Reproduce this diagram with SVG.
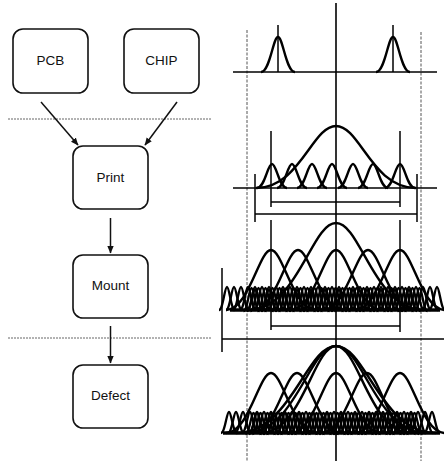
<svg xmlns="http://www.w3.org/2000/svg" xmlns:xlink="http://www.w3.org/1999/xlink" width="444" height="461" viewBox="0 0 444 461">
<style>
.box{fill:#fff;stroke:#111;stroke-width:1.6}
.lbl{font-family:"Liberation Sans",Arial,sans-serif;font-size:13.5px;fill:#111;text-anchor:middle}
.sep{stroke:#666;stroke-width:1;stroke-dasharray:2 1;fill:none}
.arr{stroke:#111;stroke-width:1.5;fill:none;marker-end:url(#ah)}
.dot{stroke:#555;stroke-width:1;stroke-dasharray:3 1.5;fill:none}
.ln{stroke:#000;stroke-width:1.5;fill:none}
.cv{stroke:#000;stroke-width:2.4;fill:none;stroke-linejoin:round}
.sm{stroke:#000;stroke-width:2.3;fill:none;stroke-linejoin:round}
</style>
<defs>
<marker id="ah" markerWidth="8" markerHeight="8" refX="7" refY="4" orient="auto" markerUnits="userSpaceOnUse">
<path d="M0,0.8 L7.5,4 L0,7.2 Z" fill="#111"/>
</marker>
<path id="p" d="M-15,0 C-7,0 -4.5,-24 0,-24 C4.5,-24 7,0 15,0"/>
<path id="s" d="M-8,0 C-4,0 -2.4,-23 0,-23 C2.4,-23 4,0 8,0"/>
<path id="t" d="M-8,0 C-4,0 -2.4,-21 0,-21 C2.4,-21 4,0 8,0"/>
<path id="m" d="M-45,0 C-22,0 -12,-60 0,-60 C12,-60 22,0 45,0"/>
</defs>

<g id="separators">
<line class="sep" x1="8" y1="119" x2="212" y2="119"/>
<line class="sep" x1="8" y1="338" x2="212" y2="338"/>
</g>

<g id="connectors">
<line class="arr" x1="41" y1="102" x2="78" y2="145"/>
<line class="arr" x1="177" y1="102" x2="145" y2="145"/>
<line class="arr" x1="110.5" y1="218" x2="110.5" y2="253"/>
<line class="arr" x1="110.5" y1="326" x2="110.5" y2="363"/>
</g>

<g id="pcb"><rect class="box" x="13" y="29" width="75" height="64" rx="10"/><text class="lbl" x="50.5" y="65">PCB</text></g>
<g id="chip"><rect class="box" x="124" y="29" width="75" height="64" rx="10"/><text class="lbl" x="161.5" y="65">CHIP</text></g>
<g id="print"><rect class="box" x="73" y="146" width="75" height="63" rx="10"/><text class="lbl" x="110.5" y="181.5">Print</text></g>
<g id="mount"><rect class="box" x="73" y="255" width="75" height="63" rx="10"/><text class="lbl" x="110.5" y="290">Mount</text></g>
<g id="defect"><rect class="box" x="73" y="365" width="75" height="63" rx="10"/><text class="lbl" x="110.5" y="399.5">Defect</text></g>

<g id="chart">
<line class="dot" x1="247" y1="30" x2="247" y2="461"/>
<line class="dot" x1="421" y1="32" x2="421" y2="461"/>
<line x1="336" y1="3" x2="336" y2="461" stroke="#000" stroke-width="1.6"/>

<!-- panel 1 -->
<line class="ln" x1="233" y1="72" x2="437" y2="72"/>
<line class="ln" x1="278" y1="25" x2="278" y2="72"/>
<line class="ln" x1="393" y1="25" x2="393" y2="72"/>
<path class="cv" d="M261,72 C270,72 273,37 278,37 C283,37 286,72 295,72"/>
<path class="cv" d="M376,72 C385,72 388,37 393,37 C398,37 401,72 410,72"/>

<!-- panel 2 -->
<line class="ln" x1="233" y1="188" x2="437" y2="188"/>
<line class="ln" x1="271" y1="131" x2="271" y2="207"/>
<line class="ln" x1="400" y1="131" x2="400" y2="207"/>
<line class="ln" x1="271" y1="202" x2="400" y2="202"/>
<line class="ln" x1="255" y1="214" x2="417" y2="214"/>
<line class="ln" x1="255" y1="174" x2="255" y2="222"/>
<line class="ln" x1="417" y1="174" x2="417" y2="222"/>
<path class="cv" d="M256,188 C300,188 312,126 336,126 C360,126 372,188 416,188"/>
<g class="cv">
<use xlink:href="#p" x="272" y="188"/>
<use xlink:href="#p" x="292" y="188"/>
<use xlink:href="#p" x="312" y="188"/>
<use xlink:href="#p" x="332" y="188"/>
<use xlink:href="#p" x="353" y="188"/>
<use xlink:href="#p" x="373" y="188"/>
<use xlink:href="#p" x="400" y="188"/>
</g>

<!-- panel 3 -->
<line class="ln" x1="271" y1="220" x2="271" y2="330"/>
<line class="ln" x1="400" y1="220" x2="400" y2="332"/>
<line class="ln" x1="271" y1="326" x2="400" y2="326"/>
<line class="ln" x1="222" y1="268" x2="222" y2="352"/>
<line class="ln" x1="222" y1="339" x2="444" y2="339"/>
<path class="cv" d="M248,310 C298,310 311,223 336,223 C361,223 374,310 424,310"/>
<g class="cv">
<use xlink:href="#m" x="271" y="310"/>
<use xlink:href="#m" x="298" y="310"/>
<use xlink:href="#m" x="336" y="310"/>
<use xlink:href="#m" x="368" y="310"/>
<use xlink:href="#m" x="400" y="310"/>
</g>
<g class="sm">
<use xlink:href="#s" x="227" y="310"/><use xlink:href="#s" x="234" y="310"/><use xlink:href="#s" x="241" y="310"/><use xlink:href="#s" x="248" y="310"/>
<use xlink:href="#s" x="255" y="310"/><use xlink:href="#s" x="262" y="310"/><use xlink:href="#s" x="269" y="310"/><use xlink:href="#s" x="276" y="310"/>
<use xlink:href="#s" x="283" y="310"/><use xlink:href="#s" x="290" y="310"/><use xlink:href="#s" x="297" y="310"/><use xlink:href="#s" x="304" y="310"/>
<use xlink:href="#s" x="311" y="310"/><use xlink:href="#s" x="318" y="310"/><use xlink:href="#s" x="325" y="310"/><use xlink:href="#s" x="332" y="310"/>
<use xlink:href="#s" x="339" y="310"/><use xlink:href="#s" x="346" y="310"/><use xlink:href="#s" x="353" y="310"/><use xlink:href="#s" x="360" y="310"/>
<use xlink:href="#s" x="367" y="310"/><use xlink:href="#s" x="374" y="310"/><use xlink:href="#s" x="381" y="310"/><use xlink:href="#s" x="388" y="310"/>
<use xlink:href="#s" x="395" y="310"/><use xlink:href="#s" x="402" y="310"/><use xlink:href="#s" x="409" y="310"/><use xlink:href="#s" x="416" y="310"/>
<use xlink:href="#s" x="423" y="310"/><use xlink:href="#s" x="430" y="310"/><use xlink:href="#s" x="437" y="310"/>
<use xlink:href="#s" x="251.5" y="311"/><use xlink:href="#s" x="258.5" y="311"/><use xlink:href="#s" x="265.5" y="311"/><use xlink:href="#s" x="272.5" y="311"/>
<use xlink:href="#s" x="279.5" y="311"/><use xlink:href="#s" x="286.5" y="311"/><use xlink:href="#s" x="293.5" y="311"/><use xlink:href="#s" x="300.5" y="311"/>
<use xlink:href="#s" x="307.5" y="311"/><use xlink:href="#s" x="314.5" y="311"/><use xlink:href="#s" x="321.5" y="311"/><use xlink:href="#s" x="328.5" y="311"/>
<use xlink:href="#s" x="335.5" y="311"/><use xlink:href="#s" x="342.5" y="311"/><use xlink:href="#s" x="349.5" y="311"/><use xlink:href="#s" x="356.5" y="311"/>
<use xlink:href="#s" x="363.5" y="311"/><use xlink:href="#s" x="370.5" y="311"/><use xlink:href="#s" x="377.5" y="311"/><use xlink:href="#s" x="384.5" y="311"/>
<use xlink:href="#s" x="391.5" y="311"/><use xlink:href="#s" x="398.5" y="311"/><use xlink:href="#s" x="405.5" y="311"/><use xlink:href="#s" x="412.5" y="311"/>
<use xlink:href="#s" x="419.5" y="311"/>
<use xlink:href="#t" x="255" y="311"/><use xlink:href="#t" x="269" y="311"/><use xlink:href="#t" x="283" y="311"/><use xlink:href="#t" x="297" y="311"/>
<use xlink:href="#t" x="311" y="311"/><use xlink:href="#t" x="325" y="311"/><use xlink:href="#t" x="339" y="311"/><use xlink:href="#t" x="353" y="311"/>
<use xlink:href="#t" x="367" y="311"/><use xlink:href="#t" x="381" y="311"/><use xlink:href="#t" x="395" y="311"/><use xlink:href="#t" x="409" y="311"/>
</g>
<line x1="230" y1="310" x2="440" y2="310" stroke="#000" stroke-width="3.5"/>

<!-- panel 4 -->
<path class="cv" d="M261,433 C302,433 313.5,346 336,346 C358.5,346 370,433 411,433"/>
<path class="cv" d="M246,433 C295.5,433 309,346 336,346 C363,346 376.5,433 426,433"/>
<path class="cv" d="M236,433 C291,433 306,346 336,346 C366,346 381,433 436,433"/>
<g class="cv">
<use xlink:href="#m" x="271" y="433"/>
<use xlink:href="#m" x="297" y="433"/>
<use xlink:href="#m" x="336" y="433"/>
<use xlink:href="#m" x="367" y="433"/>
<use xlink:href="#m" x="400" y="433"/>
</g>
<g class="sm">
<use xlink:href="#t" x="229" y="433"/><use xlink:href="#t" x="236" y="433"/><use xlink:href="#t" x="243" y="433"/><use xlink:href="#t" x="250" y="433"/>
<use xlink:href="#t" x="257" y="433"/><use xlink:href="#t" x="264" y="433"/><use xlink:href="#t" x="271" y="433"/><use xlink:href="#t" x="278" y="433"/>
<use xlink:href="#t" x="285" y="433"/><use xlink:href="#t" x="292" y="433"/><use xlink:href="#t" x="299" y="433"/><use xlink:href="#t" x="306" y="433"/>
<use xlink:href="#t" x="313" y="433"/><use xlink:href="#t" x="320" y="433"/><use xlink:href="#t" x="327" y="433"/><use xlink:href="#t" x="334" y="433"/>
<use xlink:href="#t" x="341" y="433"/><use xlink:href="#t" x="348" y="433"/><use xlink:href="#t" x="355" y="433"/><use xlink:href="#t" x="362" y="433"/>
<use xlink:href="#t" x="369" y="433"/><use xlink:href="#t" x="376" y="433"/><use xlink:href="#t" x="383" y="433"/><use xlink:href="#t" x="390" y="433"/>
<use xlink:href="#t" x="397" y="433"/><use xlink:href="#t" x="404" y="433"/><use xlink:href="#t" x="411" y="433"/><use xlink:href="#t" x="418" y="433"/>
<use xlink:href="#t" x="425" y="433"/><use xlink:href="#t" x="432" y="433"/>
<use xlink:href="#t" x="253.5" y="434"/><use xlink:href="#t" x="260.5" y="434"/><use xlink:href="#t" x="267.5" y="434"/><use xlink:href="#t" x="274.5" y="434"/>
<use xlink:href="#t" x="281.5" y="434"/><use xlink:href="#t" x="288.5" y="434"/><use xlink:href="#t" x="295.5" y="434"/><use xlink:href="#t" x="302.5" y="434"/>
<use xlink:href="#t" x="309.5" y="434"/><use xlink:href="#t" x="316.5" y="434"/><use xlink:href="#t" x="323.5" y="434"/><use xlink:href="#t" x="330.5" y="434"/>
<use xlink:href="#t" x="337.5" y="434"/><use xlink:href="#t" x="344.5" y="434"/><use xlink:href="#t" x="351.5" y="434"/><use xlink:href="#t" x="358.5" y="434"/>
<use xlink:href="#t" x="365.5" y="434"/><use xlink:href="#t" x="372.5" y="434"/><use xlink:href="#t" x="379.5" y="434"/><use xlink:href="#t" x="386.5" y="434"/>
<use xlink:href="#t" x="393.5" y="434"/><use xlink:href="#t" x="400.5" y="434"/><use xlink:href="#t" x="407.5" y="434"/><use xlink:href="#t" x="414.5" y="434"/>
<use xlink:href="#t" x="257" y="434"/><use xlink:href="#t" x="271" y="434"/><use xlink:href="#t" x="285" y="434"/><use xlink:href="#t" x="299" y="434"/>
<use xlink:href="#t" x="313" y="434"/><use xlink:href="#t" x="327" y="434"/><use xlink:href="#t" x="341" y="434"/><use xlink:href="#t" x="355" y="434"/>
<use xlink:href="#t" x="369" y="434"/><use xlink:href="#t" x="383" y="434"/><use xlink:href="#t" x="397" y="434"/><use xlink:href="#t" x="411" y="434"/>
</g>
<line x1="223" y1="433" x2="440" y2="433" stroke="#000" stroke-width="3.5"/>
</g>
</svg>
